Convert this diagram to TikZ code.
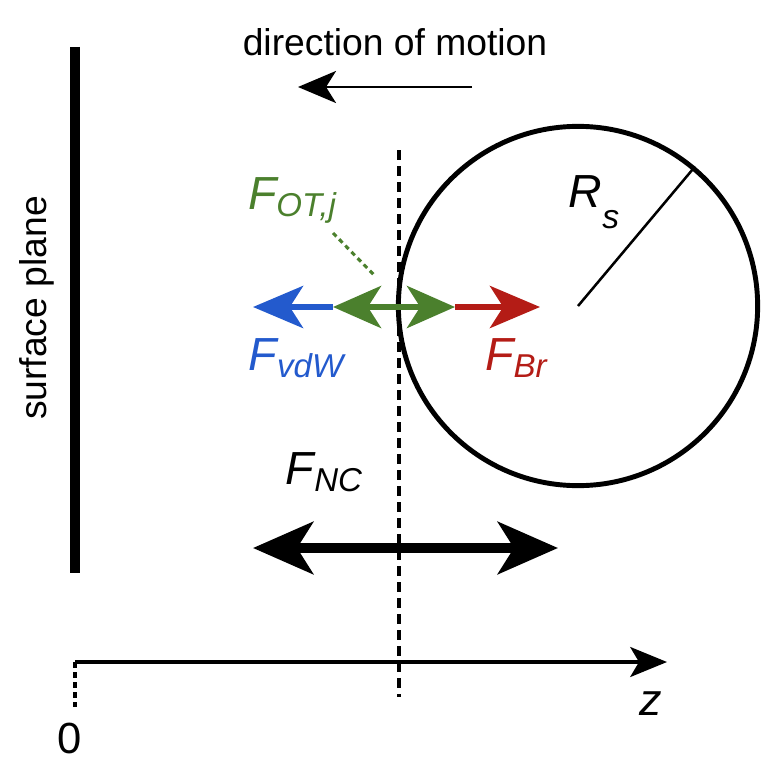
\documentclass[tikz,border=0pt]{standalone}
\usepackage{fontspec}
\setmainfont{Liberation Sans}
\usetikzlibrary{positioning,arrows.meta}

\definecolor{vdwblue}{RGB}{35,90,205}
\definecolor{otgreen}{RGB}{75,128,45}
\definecolor{brred}{RGB}{180,28,22}

\newcommand{\forcelabel}[1]{\itshape F\raisebox{-0.15em}{\fontsize{23.5}{23.5}\selectfont #1}}

\begin{document}
\begin{tikzpicture}[
	x=0.025cm, y=-0.025cm,
	>=Stealth,
	txt/.style={font=\fontsize{26.5}{30}\selectfont, inner sep=0pt},
	flabel/.style={font=\fontsize{33}{35}\selectfont, inner sep=0pt},
	force/.style={line width=4.3pt, -{Stealth[length=1.25cm, width=1.05cm, inset=0.33cm]}},
	dforce/.style={line width=4.3pt, {Stealth[length=1.2cm, width=1.05cm, inset=0.33cm]}-{Stealth[length=1.2cm, width=1.05cm, inset=0.33cm]}},
	guide/.style={line width=2.2pt, dash pattern=on 0.25cm off 0.15cm}
	]
	\useasboundingbox (0,0) rectangle (767,762);

	% surface plane and particle
	\coordinate (plane top) at (75,47);
	\coordinate (plane bottom) at (75,573);
	\draw[line width=0.25cm] (plane top) -- (plane bottom);
	\node[txt, rotate=90] (plane) at (37,308) {surface plane};

	\node[circle, draw, line width=3.5pt, inner sep=0pt, minimum size=8.98cm] (sphere) at (578,306) {};
	\draw[line width=1.8pt] (sphere.center) -- (sphere.50);
	\node[flabel] (radius) at (594,202) {\itshape R\raisebox{-0.45em}{\fontsize{24}{24}\selectfont s}};

	% motion
	\coordinate (motion start) at (472,87);
	\coordinate (motion end) at (298,87);
	\draw[line width=2.1pt, -{Stealth[length=0.95cm, width=0.8cm, inset=0.25cm]}] (motion start) -- (motion end);
	\node[txt] (motion) at (395,42) {direction of motion};

	% contact line
	\coordinate (contact top) at (399,150);
	\coordinate (contact bottom) at (399,697);
	\draw[guide] (contact top) -- (contact bottom);

	% forces
	\coordinate (vdw tip) at (253,307);
	\coordinate (ot left) at (333,307);
	\coordinate (ot right) at (455,307);
	\coordinate (br tip) at (540,307);
	\draw[force, vdwblue] (ot left) -- (vdw tip);
	\draw[force, brred] (ot right) -- (br tip);
	\draw[dforce, otgreen] (ot left) -- (ot right);

	\node[flabel, text=otgreen] (ot) at (292,200) {\forcelabel{OT,j}};
	\coordinate (ot pointer) at (376,277);
	\draw[otgreen, line width=2.2pt, dash pattern=on 0.12cm off 0.1cm] (333,233) -- (ot pointer);
	\node[flabel, text=vdwblue] (vdw) at (296,358) {\forcelabel{vdW}};
	\node[flabel, text=brred] (br) at (516,358) {\forcelabel{Br}};

	% non-contact
	\coordinate (nc left) at (253,548);
	\coordinate (nc right) at (558,548);
	\draw[line width=7.1pt, {Stealth[length=1.5cm, width=1.3cm, inset=0.4cm]}-{Stealth[length=1.5cm, width=1.3cm, inset=0.4cm]}] (nc left) -- (nc right);
	\node[flabel] (nc) at (324,472) {\forcelabel{NC}};

	% z axis
	\coordinate (origin) at (75,662);
	\coordinate (z end) at (667,662);
	\coordinate (origin foot) at (75,707);
	\draw[line width=2.2pt, -{Stealth[length=0.92cm, width=0.75cm, inset=0.22cm]}] (origin) -- (z end);
	\draw[line width=2.2pt, dash pattern=on 0.15cm off 0.1cm] (origin) -- (origin foot);
	\node[font=\fontsize{31}{33}\selectfont, inner sep=0pt] (zero) at (70,738) {0};
	\node[font=\fontsize{32}{34}\selectfont\itshape, inner sep=0pt] (z) at (651,704) {z};
\end{tikzpicture}
\end{document}
